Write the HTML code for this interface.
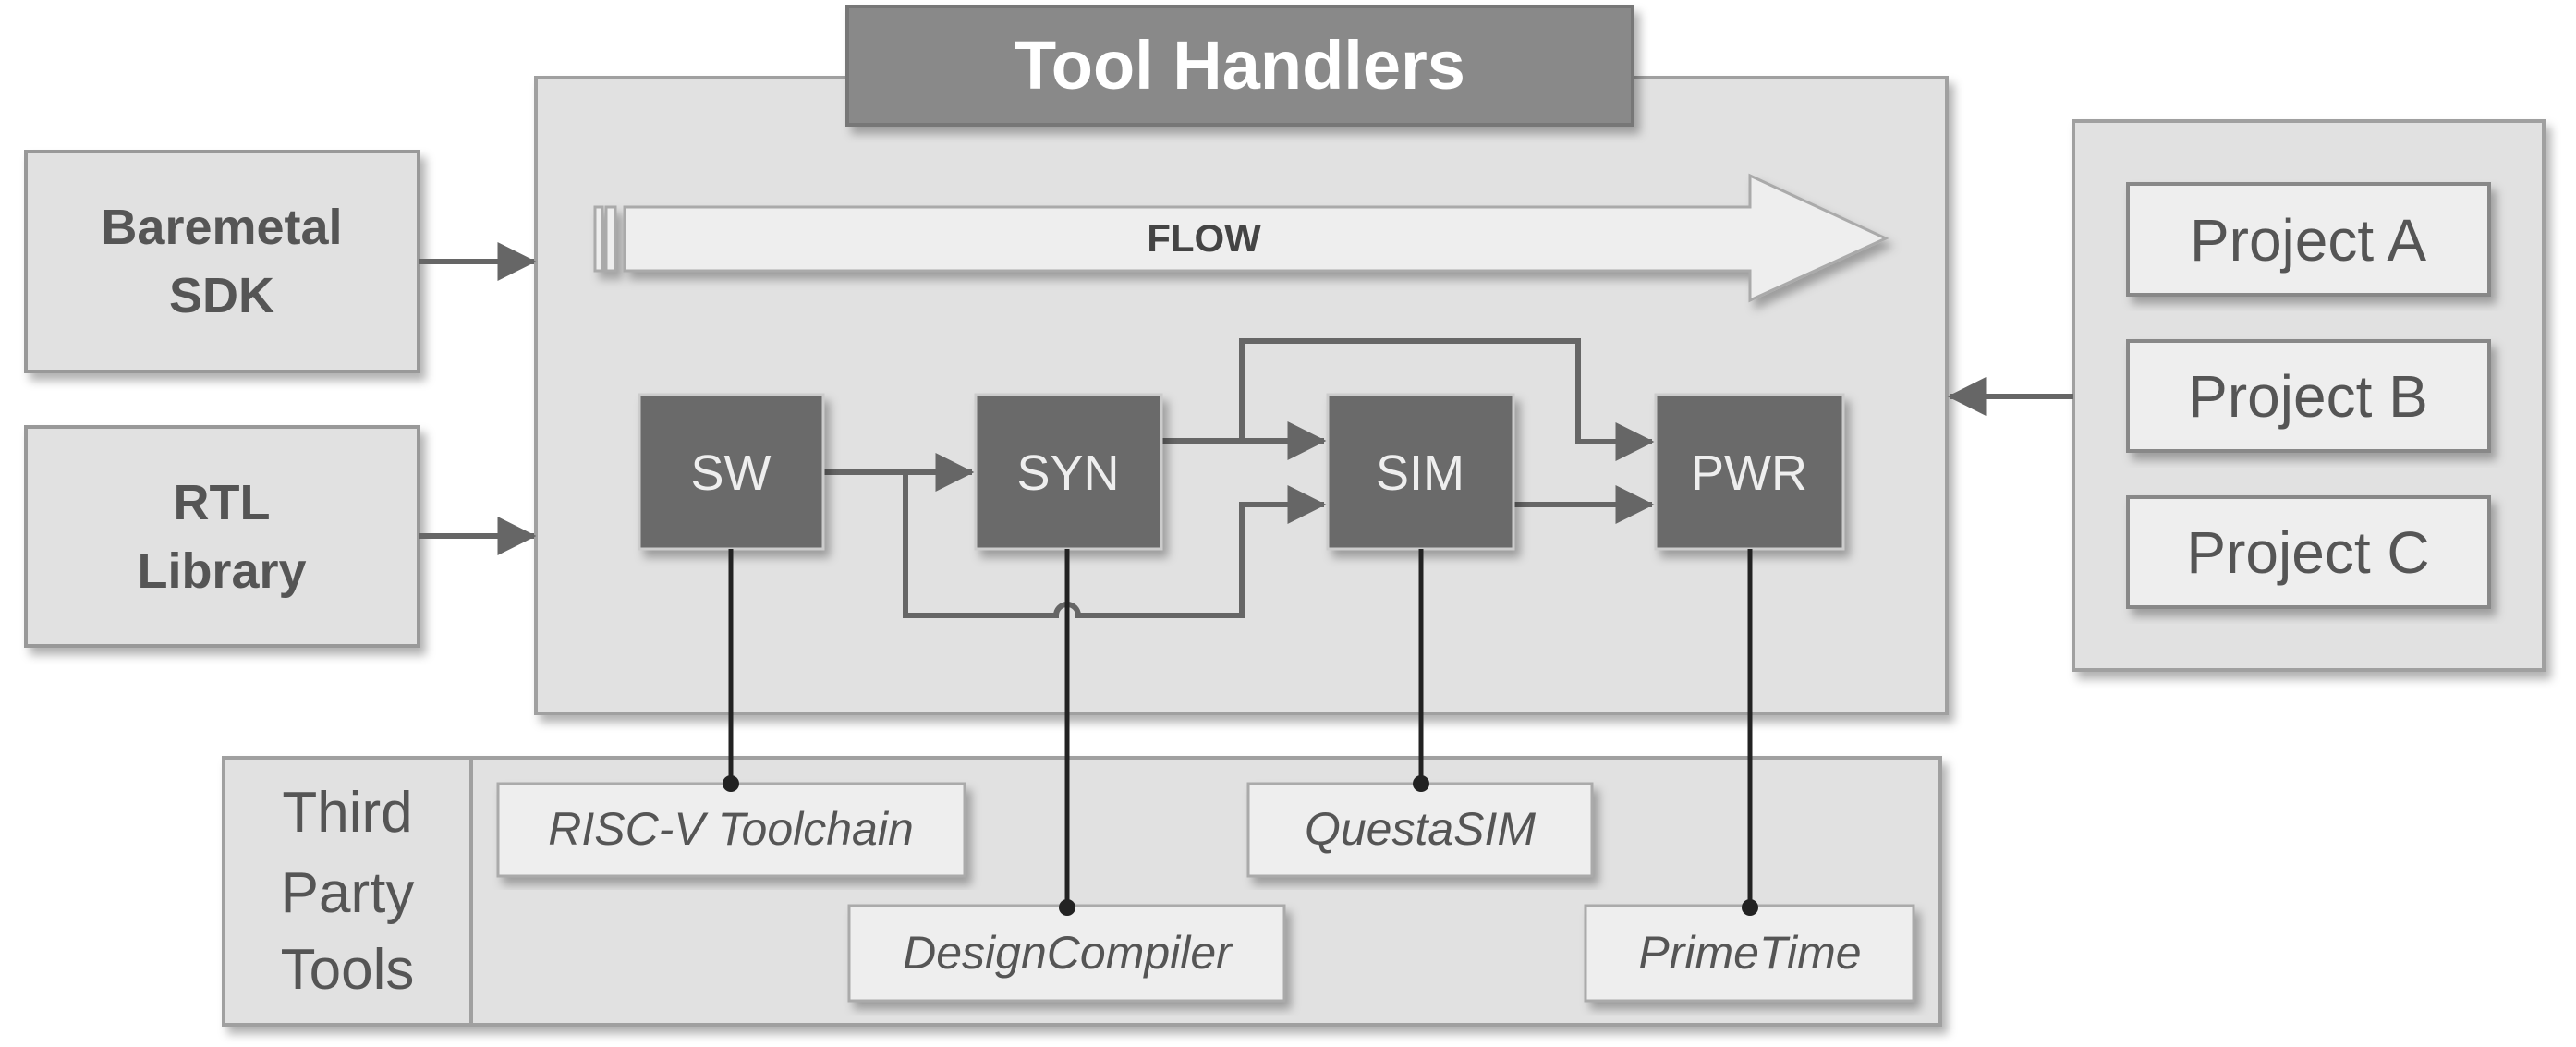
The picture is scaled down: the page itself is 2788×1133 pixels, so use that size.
<!DOCTYPE html>
<html><head><meta charset="utf-8"><style>
html,body{margin:0;padding:0;background:#fff;}
svg{display:block;}
text{font-family:"Liberation Sans",sans-serif;}
</style></head><body>
<svg width="2788" height="1133" viewBox="0 0 2788 1133" xmlns="http://www.w3.org/2000/svg">
<defs>
<filter id="sh" x="-5%" y="-5%" width="115%" height="120%"><feDropShadow dx="6" dy="8" stdDeviation="5" flood-color="#000" flood-opacity="0.3"/></filter>
<marker id="ah" markerWidth="7" markerHeight="7" refX="6.6" refY="3.5" orient="auto" markerUnits="strokeWidth"><path d="M0,0 L7,3.5 L0,7 z" fill="#666"/></marker>
</defs>
<rect x="580" y="84" width="1527" height="688" fill="#e1e1e1" stroke="#a0a0a0" stroke-width="4" filter="url(#sh)"/>
<rect x="917" y="7" width="850" height="128" fill="#898989" stroke="#777" stroke-width="4" filter="url(#sh)"/>
<text x="1342" y="96" font-size="74" font-weight="bold" fill="#fff" text-anchor="middle">Tool Handlers</text>
<rect x="28" y="164" width="425" height="238" fill="#e1e1e1" stroke="#999" stroke-width="4" filter="url(#sh)"/>
<text x="240" y="264" font-size="54" font-weight="bold" fill="#555" text-anchor="middle">Baremetal</text>
<text x="240" y="338" font-size="54" font-weight="bold" fill="#555" text-anchor="middle">SDK</text>
<rect x="28" y="462" width="425" height="237" fill="#e1e1e1" stroke="#999" stroke-width="4" filter="url(#sh)"/>
<text x="240" y="562" font-size="54" font-weight="bold" fill="#555" text-anchor="middle">RTL</text>
<text x="240" y="636" font-size="54" font-weight="bold" fill="#555" text-anchor="middle">Library</text>
<line x1="453" y1="283" x2="578" y2="283" stroke="#666" stroke-width="6" marker-end="url(#ah)"/>
<line x1="453" y1="580" x2="578" y2="580" stroke="#666" stroke-width="6" marker-end="url(#ah)"/>
<g filter="url(#sh)">
<rect x="644" y="224" width="8" height="69" fill="#eee" stroke="#aaa" stroke-width="3"/>
<rect x="656" y="224" width="10" height="69" fill="#eee" stroke="#aaa" stroke-width="3"/>
<path d="M676,224 L1894,224 L1894,190 L2041,258 L1894,325 L1894,293 L676,293 z" fill="#eeeeee" stroke="#aaa" stroke-width="3"/>
</g>
<text x="1303" y="272" font-size="42" font-weight="bold" fill="#444" text-anchor="middle">FLOW</text>
<rect x="2244" y="131" width="509" height="594" fill="#e1e1e1" stroke="#a0a0a0" stroke-width="4" filter="url(#sh)"/>
<g font-size="64" fill="#555" text-anchor="middle">
<rect x="2303" y="199" width="391" height="120" fill="#eeeeee" stroke="#888" stroke-width="4" filter="url(#sh)"/>
<text x="2498" y="282">Project A</text>
<rect x="2303" y="369" width="391" height="119" fill="#eeeeee" stroke="#888" stroke-width="4" filter="url(#sh)"/>
<text x="2498" y="451">Project B</text>
<rect x="2303" y="538" width="391" height="119" fill="#eeeeee" stroke="#888" stroke-width="4" filter="url(#sh)"/>
<text x="2498" y="620">Project C</text>
</g>
<line x1="2244" y1="429" x2="2110" y2="429" stroke="#666" stroke-width="6" marker-end="url(#ah)"/>
<rect x="242" y="820" width="1858" height="289" fill="#e1e1e1" stroke="#a0a0a0" stroke-width="4" filter="url(#sh)"/>
<line x1="510" y1="820" x2="510" y2="1109" stroke="#a0a0a0" stroke-width="4"/>
<g font-size="62" fill="#555" text-anchor="middle">
<text x="376" y="900">Third</text>
<text x="376" y="987">Party</text>
<text x="376" y="1070">Tools</text>
</g>
<g font-size="50" font-style="italic" fill="#555" text-anchor="middle">
<rect x="539" y="848" width="505" height="100" fill="#eeeeee" stroke="#aaa" stroke-width="3" filter="url(#sh)"/>
<text x="791" y="914">RISC-V Toolchain</text>
<rect x="1351" y="848" width="372" height="100" fill="#eeeeee" stroke="#aaa" stroke-width="3" filter="url(#sh)"/>
<text x="1537" y="914">QuestaSIM</text>
<rect x="919" y="980" width="471" height="103" fill="#eeeeee" stroke="#aaa" stroke-width="3" filter="url(#sh)"/>
<text x="1155" y="1048">DesignCompiler</text>
<rect x="1716" y="980" width="355" height="103" fill="#eeeeee" stroke="#aaa" stroke-width="3" filter="url(#sh)"/>
<text x="1894" y="1048">PrimeTime</text>
</g>
<g fill="none" stroke="#666" stroke-width="6">
<line x1="891" y1="511" x2="1052" y2="511" marker-end="url(#ah)"/>
<path d="M980,511 L980,666 L1143,666 A12,12 0 0 1 1167,666 L1344,666 L1344,546 L1433,546" marker-end="url(#ah)"/>
<line x1="1257" y1="477" x2="1433" y2="477" marker-end="url(#ah)"/>
<path d="M1344,477 L1344,369 L1708,369 L1708,478 L1788,478" marker-end="url(#ah)"/>
<line x1="1638" y1="546" x2="1788" y2="546" marker-end="url(#ah)"/>
</g>
<g font-size="54" fill="#eee" text-anchor="middle">
<rect x="692" y="427" width="199" height="167" fill="#6b6b6b" stroke="#ccc" stroke-width="3" filter="url(#sh)"/>
<text x="791" y="530">SW</text>
<rect x="1056" y="427" width="201" height="167" fill="#6b6b6b" stroke="#ccc" stroke-width="3" filter="url(#sh)"/>
<text x="1156" y="530">SYN</text>
<rect x="1437" y="427" width="201" height="167" fill="#6b6b6b" stroke="#ccc" stroke-width="3" filter="url(#sh)"/>
<text x="1537" y="530">SIM</text>
<rect x="1792" y="427" width="203" height="167" fill="#6b6b6b" stroke="#ccc" stroke-width="3" filter="url(#sh)"/>
<text x="1893" y="530">PWR</text>
</g>
<g stroke="#222" stroke-width="5">
<line x1="791" y1="594" x2="791" y2="848"/>
<line x1="1155" y1="594" x2="1155" y2="980"/>
<line x1="1538" y1="594" x2="1538" y2="848"/>
<line x1="1894" y1="594" x2="1894" y2="980"/>
</g>
<g fill="#222">
<circle cx="791" cy="848" r="9"/>
<circle cx="1155" cy="982" r="9"/>
<circle cx="1538" cy="848" r="9"/>
<circle cx="1894" cy="982" r="9"/>
</g>
</svg>
</body></html>
